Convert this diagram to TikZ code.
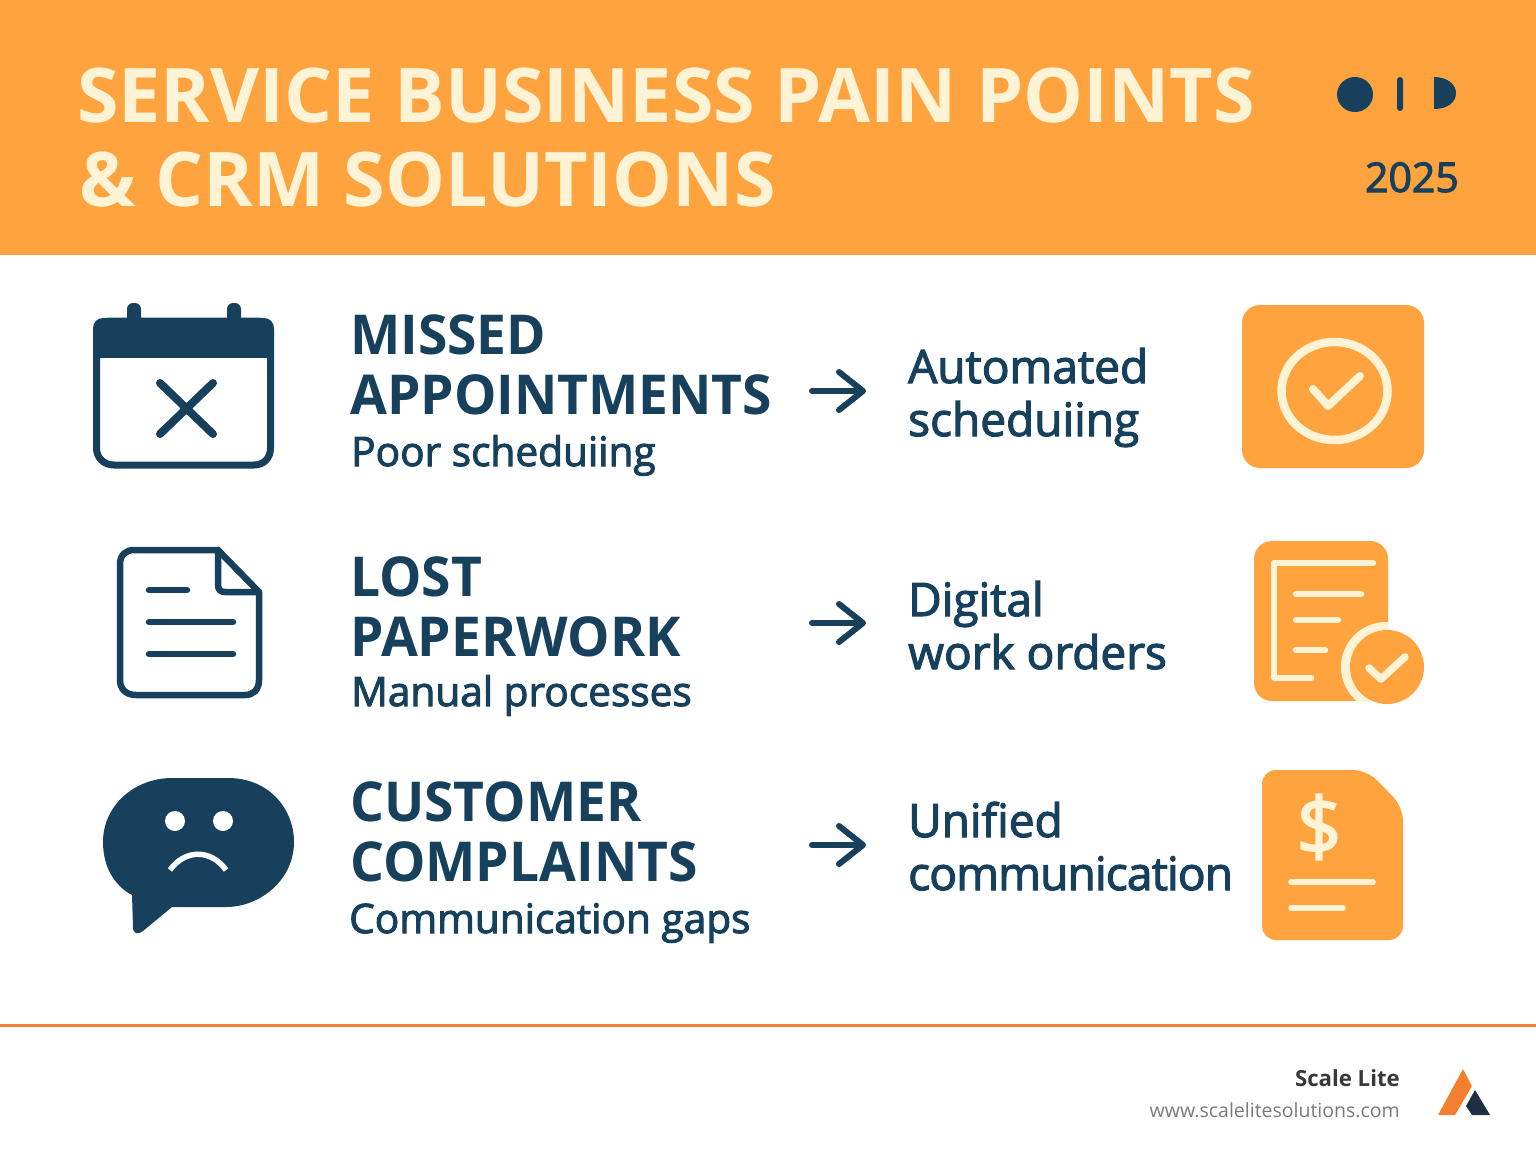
\documentclass[tikz,border=0pt]{standalone}
\usepackage{fontspec}
\setmainfont{Open Sans}
\newfontfamily\headfam{Open Sans}[FakeStretch=0.97]
\newfontface\medfont{Open Sans}[FakeBold=2.5]
\usetikzlibrary{arrows.meta}
\definecolor{bandorange}{HTML}{FFA33F}
\definecolor{navy}{HTML}{17405C}
\definecolor{cream}{HTML}{FFF3D6}
\definecolor{ruleorange}{HTML}{F47F2F}
\definecolor{logonavy}{HTML}{1F2E40}
\tikzset{
  titletext/.style={anchor=base west,inner sep=0pt,text=cream,font=\fontsize{75.4}{75}\selectfont\bfseries},
  headtext/.style={anchor=base west,inner sep=0pt,text=navy,font=\fontsize{55}{55}\headfam\selectfont\bfseries},
  causetext/.style={anchor=base west,inner sep=0pt,text=navy,font=\fontsize{40.6}{40}\selectfont\medfont},
  fixtext/.style={anchor=base west,inner sep=0pt,text=navy,font=\fontsize{46}{46}\selectfont\medfont},
  painarrow/.style={draw=navy,line width=6pt,line cap=round,-{Straight Barb[length=24pt,width=38pt,line width=6pt,round]}},
  navyline/.style={draw=navy,line width=6.5pt,line cap=round,line join=round},
  creamline/.style={draw=cream,line width=6.5pt,line cap=round,line join=round},
}
\begin{document}
\begin{tikzpicture}[x=1pt,y=-1pt]
\useasboundingbox (0,0) rectangle (1536,1154);
\fill[white] (0,0) rectangle (1536,1154);
% header band
\fill[bandorange] (0,0) rectangle (1536,255);
\node[titletext] (titleone) at (77,122) {SERVICE BUSINESS PAIN POINTS};
\node[titletext] (titletwo) at (79,206) {\& CRM SOLUTIONS};
\fill[navy] (1355,94.5) ellipse (18 and 17.5);
\fill[navy,rounded corners=3pt] (1397,77) rectangle (1403,111);
\fill[navy] (1434,77) .. controls (1448,77) and (1456,85) .. (1456,93) .. controls (1456,102) and (1448,109) .. (1434,109) -- cycle;
\node[anchor=base east,inner sep=0pt,text=navy,font=\fontsize{41}{41}\selectfont\medfont] (yearlabel) at (1459,192) {2025};
% calendar
\draw[navyline,line width=7pt] (111,321) -- (257,321) .. controls (266,321) and (270.5,326) .. (270.5,333) -- (270.5,448) .. controls (270.5,458) and (264,465) .. (254,465) -- (114,465) .. controls (104,465) and (96.5,458) .. (96.5,448) -- (96.5,333) .. controls (96.5,326) and (102,321) .. (111,321) -- cycle;
\fill[navy,rounded corners=10pt] (93,318) rectangle (274,345);
\fill[navy] (93,335) rectangle (274,358);
\fill[navy,rounded corners=6pt] (127,303) rectangle (141,330);
\fill[navy,rounded corners=6pt] (227,303) rectangle (241,330);
\draw[navyline,line width=8pt] (160,383) -- (213,434) (213,383) -- (160,434);
% paper sheet
\draw[navyline] (134,550) -- (218,550) -- (259,592) -- (259,680) .. controls (259,690) and (253,695) .. (245,695) -- (136,695) .. controls (126,695) and (120,689) .. (120,680) -- (120,564) .. controls (120,555) and (126,550) .. (134,550) -- cycle;
\draw[navyline] (218,550) -- (218,585) .. controls (218,590) and (221,592) .. (225,592) -- (259,592);
\draw[navyline] (149,590) -- (187,590) (149,622) -- (233,622) (149,654) -- (233,654);
% sad bubble
\fill[navy] (172,778) -- (228,778) .. controls (270,778) and (294,810) .. (294,842) .. controls (294,880) and (260,907) .. (226,907) -- (172,907) -- (143,931) .. controls (138,935) and (133,934) .. (133,927) -- (132,895) .. controls (113,885) and (103,865) .. (103,842) .. controls (103,805) and (135,778) .. (172,778) -- cycle;
\fill[white] (175,821) circle (10);
\fill[white] (223,821) circle (10);
\draw[white,line width=5.5pt] (170,870) .. controls (185,849) and (211,849) .. (226,870);
% left texts
\node[headtext] (headone) at (350,354) {MISSED};
\node[headtext] (headoneb) at (350,414) {APPOINTMENTS};
\node[causetext] (causeone) at (351,466) {Poor scheduiing};
\node[headtext] (headtwo) at (350,596) {LOST};
\node[headtext] (headtwob) at (350,656) {PAPERWORK};
\node[causetext] (causetwo) at (351,706) {Manual processes};
\node[headtext] (headthree) at (350,821) {CUSTOMER};
\node[headtext] (headthreeb) at (350,881) {COMPLAINTS};
\node[causetext] (causethree) at (349,933) {Communication gaps};
% arrows
\coordinate (arrowonea) at (812,391);
\coordinate (arrowoneb) at (866,391);
\coordinate (arrowtwoa) at (812,623);
\coordinate (arrowtwob) at (866,623);
\coordinate (arrowthreea) at (812,845);
\coordinate (arrowthreeb) at (866,845);
\draw[painarrow] (arrowonea) -- (arrowoneb);
\draw[painarrow] (arrowtwoa) -- (arrowtwob);
\draw[painarrow] (arrowthreea) -- (arrowthreeb);
% right texts
\node[fixtext] (fixone) at (908,383) {Automated};
\node[fixtext] (fixoneb) at (908,436) {scheduiing};
\node[fixtext] (fixtwo) at (908,616) {Digital};
\node[fixtext] (fixtwob) at (908,669) {work orders};
\node[fixtext] (fixthree) at (908,837) {Unified};
\node[fixtext] (fixthreeb) at (908,890) {\addfontfeature{LetterSpace=-1.8}communication};
% check tile
\fill[bandorange,rounded corners=18pt] (1242,305) rectangle (1424,468);
\draw[creamline,line width=8.5pt] (1334.5,391) ellipse (53 and 49);
\draw[creamline,line width=8pt] (1313,389) -- (1328,406) -- (1360,376);
% work order tile
\begin{scope}
\fill[bandorange,rounded corners=18pt] (1254,541) rectangle (1388,701);
\clip[rounded corners=18pt] (1254,541) rectangle (1388,701);
\fill[cream] (1386,667) circle (45);
\end{scope}
\fill[bandorange] (1387,667) circle (37);
\draw[creamline] (1373,563) -- (1274,563) -- (1274,678) -- (1311,678);
\draw[creamline] (1296,594) -- (1361,594) (1296,620) -- (1338,620) (1296,650) -- (1325,650);
\draw[creamline,line width=7.5pt] (1369,668) -- (1381,679) -- (1405,657);
% invoice tile
\fill[bandorange,rounded corners=14pt] (1262,770) -- (1367,770) -- (1403,807) -- (1403,940) -- (1262,940) -- cycle;
\node[inner sep=0pt,text=cream,font=\fontsize{80}{80}\selectfont\medfont] (dollarsign) at (1319,827) {\$};
\draw[creamline,line width=5.5pt] (1291,882) -- (1373,882) (1291,908) -- (1343,908);
% footer
\draw[ruleorange,line width=3pt] (0,1025) -- (1536,1025);
\node[anchor=base east,inner sep=0pt,text=black!78,font=\fontsize{22.2}{24}\selectfont\bfseries] (brandname) at (1400,1086) {Scale Lite};
\node[anchor=base east,inner sep=0pt,text=black!52,font=\fontsize{19.5}{20}\selectfont] (brandurl) at (1400,1117) {www.scalelitesolutions.com};
\fill[ruleorange,rounded corners=1pt] (1463,1069) -- (1472,1086) -- (1455,1115) -- (1438,1115) -- cycle;
\fill[logonavy] (1475,1090) -- (1490,1115) -- (1472,1115) -- (1466,1106) -- cycle;
\end{tikzpicture}
\end{document}
